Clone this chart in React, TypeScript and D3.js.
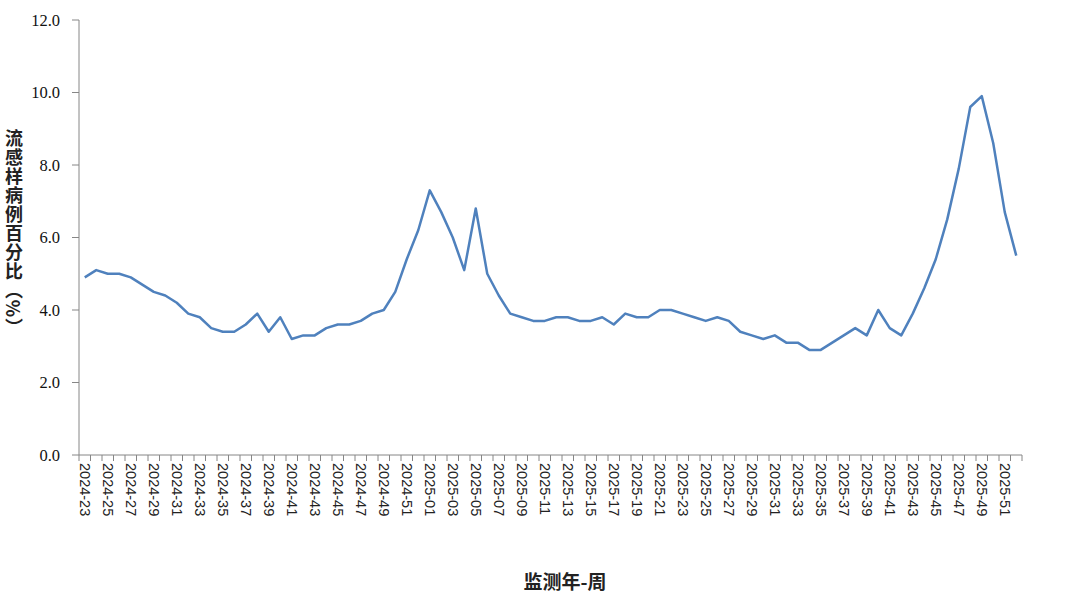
import React, { useEffect, useRef } from "react";
import * as d3 from "d3";

const weeks2024: string[] = [];
for (let w = 23; w <= 52; w++) weeks2024.push(`2024-${String(w).padStart(2, "0")}`);
const weeks2025: string[] = [];
for (let w = 1; w <= 52; w++) weeks2025.push(`2025-${String(w).padStart(2, "0")}`);
const categories: string[] = [...weeks2024, ...weeks2025];

const ilIPercent: number[] = [
  4.9, 5.1, 5.0, 5.0, 4.9, 4.7, 4.5, 4.4, 4.2, 3.9,
  3.8, 3.5, 3.4, 3.4, 3.6, 3.9, 3.4, 3.8, 3.2, 3.3,
  3.3, 3.5, 3.6, 3.6, 3.7, 3.9, 4.0, 4.5, 5.4, 6.2,
  7.3, 6.7, 6.0, 5.1, 6.8, 5.0, 4.4, 3.9, 3.8, 3.7,
  3.7, 3.8, 3.8, 3.7, 3.7, 3.8, 3.6, 3.9, 3.8, 3.8,
  4.0, 4.0, 3.9, 3.8, 3.7, 3.8, 3.7, 3.4, 3.3, 3.2,
  3.3, 3.1, 3.1, 2.9, 2.9, 3.1, 3.3, 3.5, 3.3, 4.0,
  3.5, 3.3, 3.9, 4.6, 5.4, 6.5, 7.9, 9.6, 9.9, 8.6,
  6.7, 5.5,
];

const yTicks: number[] = [0, 2, 4, 6, 8, 10, 12];
const xTitle = "监测年-周";
const yTitle = "流感样病例百分比（%）";

const W = 1080;
const H = 608;
const M = { left: 79, right: 58, top: 20, bottom: 153 };

export default function App() {
  const ref = useRef<SVGSVGElement | null>(null);

  useEffect(() => {
    const svg = d3.select(ref.current);
    svg.selectAll("*").remove();

    const x = d3
      .scaleBand<string>()
      .domain(categories)
      .range([M.left, W - M.right])
      .paddingInner(0)
      .paddingOuter(0);
    const y = d3.scaleLinear().domain([0, 12]).range([H - M.bottom, M.top]);
    const axisColor = "#868686";

    // Y axis
    const gy = svg.append("g");
    gy.append("line")
      .attr("x1", M.left).attr("x2", M.left)
      .attr("y1", y(12)).attr("y2", y(0))
      .attr("stroke", axisColor).attr("stroke-width", 1);
    yTicks.forEach((t) => {
      gy.append("line")
        .attr("x1", M.left - 7).attr("x2", M.left)
        .attr("y1", y(t)).attr("y2", y(t))
        .attr("stroke", axisColor).attr("stroke-width", 1);
      gy.append("text")
        .attr("x", 60).attr("y", y(t))
        .attr("text-anchor", "end")
        .attr("dominant-baseline", "central")
        .attr("font-family", "'Liberation Serif', 'Times New Roman', serif")
        .attr("font-size", 16.5)
        .attr("fill", "#111")
        .text(t.toFixed(1));
    });

    // X axis
    const gx = svg.append("g");
    const y0 = y(0);
    gx.append("line")
      .attr("x1", M.left).attr("x2", W - M.right)
      .attr("y1", y0).attr("y2", y0)
      .attr("stroke", axisColor).attr("stroke-width", 1);
    const bw = x.bandwidth();
    categories.forEach((c, i) => {
      const bx = x(c)!;
      gx.append("line")
        .attr("x1", bx + bw).attr("x2", bx + bw)
        .attr("y1", y0).attr("y2", y0 + 6)
        .attr("stroke", axisColor).attr("stroke-width", 1);
      if (i === 0) {
        gx.append("line")
          .attr("x1", bx).attr("x2", bx)
          .attr("y1", y0).attr("y2", y0 + 6)
          .attr("stroke", axisColor).attr("stroke-width", 1);
      }
      if (i % 2 === 0) {
        gx.append("text")
          .attr("transform", `translate(${bx + bw / 2},${y0 + 8}) rotate(90)`)
          .attr("text-anchor", "start")
          .attr("dominant-baseline", "central")
          .attr("font-family", "'Liberation Sans', Arial, sans-serif")
          .attr("font-size", 14.5)
          .attr("fill", "#222")
          .text(c);
      }
    });

    // Line
    const line = d3
      .line<number>()
      .x((_, i) => x(categories[i])! + bw / 2)
      .y((d) => y(d));
    svg.append("path")
      .datum(ilIPercent)
      .attr("d", line)
      .attr("fill", "none")
      .attr("stroke", "#4F81BD")
      .attr("stroke-width", 2.5)
      .attr("stroke-linejoin", "round");

    // Titles
    svg.append("text")
      .attr("x", 565).attr("y", 580)
      .attr("text-anchor", "middle")
      .attr("dominant-baseline", "central")
      .attr("font-family", "'Noto Sans CJK SC', sans-serif")
      .attr("font-weight", 600)
      .attr("font-size", 19)
      .attr("fill", "#222")
      .text(xTitle);

    svg.append("text")
      .attr("x", 14).attr("y", 233)
      .attr("text-anchor", "middle")
      .style("writing-mode", "vertical-rl")
      .style("letter-spacing", "1px")
      .attr("font-family", "'Noto Sans CJK SC', sans-serif")
      .attr("font-weight", 600)
      .attr("font-size", 18)
      .attr("fill", "#222")
      .text(yTitle);
  }, []);

  return (
    <svg
      ref={ref}
      width={W}
      height={H}
      style={{ position: "absolute", left: 0, top: 0, background: "#fff" }}
    />
  );
}
